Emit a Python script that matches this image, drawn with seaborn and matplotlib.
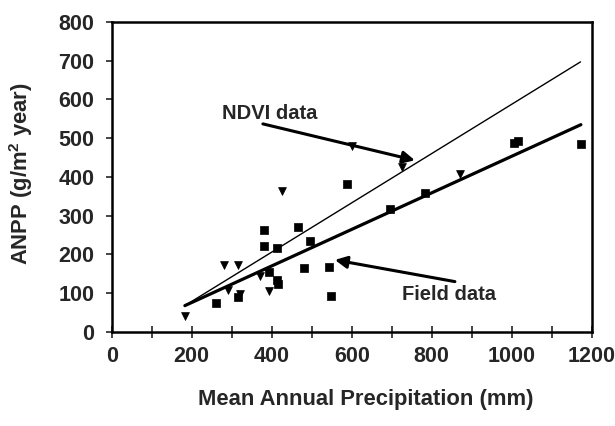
import matplotlib
matplotlib.use("Agg")
import matplotlib.pyplot as plt
import seaborn as sns
import pandas as pd
from matplotlib.ticker import MultipleLocator

# NDVI data (triangles)
ndvi_x = [183, 281, 316, 290, 321, 372, 394, 427, 602, 725, 871]
ndvi_y = [41, 172, 172, 109, 98, 145, 105, 365, 480, 427, 407]

# Field data (squares)
field_x = [261, 317, 380, 380, 414, 394, 413, 415, 465, 496, 481, 543, 548,
           589, 696, 783, 1007, 1015, 1173]
field_y = [74, 91, 263, 222, 218, 155, 135, 124, 270, 236, 166, 168, 93,
           382, 317, 358, 487, 492, 484]

# Regression lines (end points)
ndvi_fit_x = [183, 1172]
ndvi_fit_y = [68, 697]
field_fit_x = [183, 1173]
field_fit_y = [68, 535]

x_ticks = [0, 200, 400, 600, 800, 1000, 1200]
y_ticks = [0, 100, 200, 300, 400, 500, 600, 700, 800]

sns.set_theme(style="ticks")
plt.rcParams['font.family'] = ['Liberation Sans', 'DejaVu Sans']
plt.rcParams['mathtext.fontset'] = 'custom'
plt.rcParams['mathtext.bf'] = 'Liberation Sans:bold'
plt.rcParams['mathtext.rm'] = 'Liberation Sans'

fig = plt.figure(figsize=(6.15, 4.26), dpi=100)
ax = fig.add_axes([0.1816, 0.2207, 0.7805, 0.7277])

ndvi_df = pd.DataFrame({"x": ndvi_x, "y": ndvi_y})
field_df = pd.DataFrame({"x": field_x, "y": field_y})

sns.lineplot(x=ndvi_fit_x, y=ndvi_fit_y, ax=ax, color="black", linewidth=1.0)
sns.lineplot(x=field_fit_x, y=field_fit_y, ax=ax, color="black", linewidth=2.3)

sns.scatterplot(data=ndvi_df, x="x", y="y", ax=ax, marker="v", s=32,
                color="black", edgecolor="black", linewidth=0.5)
sns.scatterplot(data=field_df, x="x", y="y", ax=ax, marker="s", s=30,
                color="black", edgecolor="black", linewidth=0.5)

ax.set_xlim(0, 1200)
ax.set_ylim(0, 800)
ax.set_xticks(x_ticks)
ax.set_xticklabels([str(v) for v in x_ticks], fontsize=15.5, fontweight="bold")
ax.set_yticks(y_ticks)
ax.set_yticklabels([str(v) for v in y_ticks], fontsize=15.5, fontweight="bold")
ax.xaxis.set_minor_locator(MultipleLocator(100))
ax.tick_params(axis="x", which="both", direction="inout", length=8, width=1.2,
               pad=6)
ax.tick_params(axis="y", which="both", direction="out", length=4, width=1.2,
               pad=8.5)

for sp in ax.spines.values():
    sp.set_visible(True)
    sp.set_linewidth(1.8)
    sp.set_color("black")

ax.set_xlabel("Mean Annual Precipitation (mm)", fontsize=15.8, fontweight="bold")
ax.set_ylabel("ANPP (g/m$^\\mathbf{2}$ year)", fontsize=15.8, fontweight="bold")
ax.xaxis.set_label_coords(0.53, -0.185)
ax.yaxis.set_label_coords(-0.16, 0.51)

ax.annotate("", xy=(758, 443), xytext=(378, 537),
            arrowprops=dict(arrowstyle="-|>", color="black", lw=2.2,
                            mutation_scale=18, shrinkA=0, shrinkB=0))
ax.text(395, 565, "NDVI data", fontsize=14.5, fontweight="bold",
        ha="center", va="center")

ax.annotate("", xy=(558, 186), xytext=(858, 130),
            arrowprops=dict(arrowstyle="-|>", color="black", lw=2.2,
                            mutation_scale=18, shrinkA=0, shrinkB=0))
ax.text(843, 98, "Field data", fontsize=14.5, fontweight="bold",
        ha="center", va="center")

fig.savefig("out.png", dpi=100, facecolor="white")
